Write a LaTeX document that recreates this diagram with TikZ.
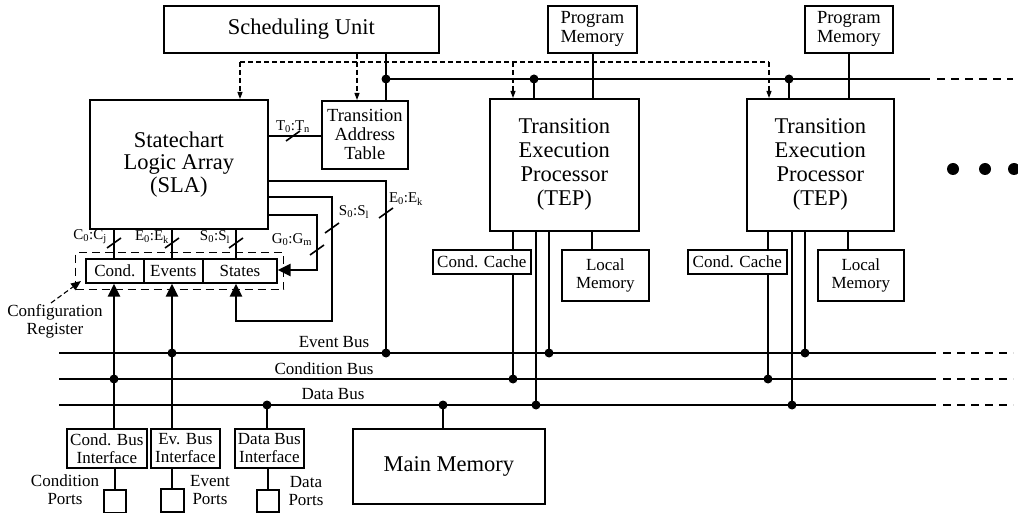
\documentclass[tikz,border=0pt]{standalone}
\usepackage{fontspec}
\setmainfont{Liberation Serif}
\usetikzlibrary{arrows.meta}
\begin{document}
\begin{tikzpicture}[x=1pt,y=-1pt,
  box/.style={draw, line width=1.7pt, inner sep=0pt, align=center, anchor=north west, fill=white},
  fbig/.style={font=\fontsize{22.5}{24}\selectfont},
  fsla/.style={font=\fontsize{22.5}{22.5}\selectfont},
  fmid/.style={font=\fontsize{18.5}{19}\selectfont},
  fsm/.style={font=\fontsize{17}{18}\selectfont},
  ftiny/.style={font=\fontsize{15}{15}\selectfont},
  lbl/.style={inner sep=0pt, align=center},
  thk/.style={line width=2.9pt},
  med/.style={line width=2.2pt},
  busline/.style={line width=2.6pt},
  busdash/.style={line width=2.6pt, dash pattern=on 8pt off 6pt},
  topdash/.style={line width=2.2pt, dash pattern=on 8pt off 6pt},
  ctl/.style={line width=1.1pt, dash pattern=on 5pt off 3pt},
  ctlarr/.style={ctl, -{Triangle[length=7pt,width=5pt]}},
  bigarr/.style={-{Triangle[length=13pt,width=12pt]}},
  slsh/.style={line width=1.6pt},
  jdot/.style={fill=black}
]
\useasboundingbox (0,0) rectangle (1018,513);

% ---------- x / y reference coordinates ----------
\coordinate (x113) at (114,0);
\coordinate (x172) at (172,0);
\coordinate (x236) at (236,0);
\coordinate (x267) at (267,0);
\coordinate (x357) at (357,0);
\coordinate (x443) at (443,0);
\coordinate (x513) at (513,0);
\coordinate (x536) at (536,0);
\coordinate (x549) at (549,0);
\coordinate (x592) at (592,0);
\coordinate (x593) at (593,0);
\coordinate (x768) at (768,0);
\coordinate (x792) at (792,0);
\coordinate (x805) at (805,0);
\coordinate (x848) at (848,0);
\coordinate (x849) at (849,0);
\coordinate (yT) at (0,136);

% ---------- buses ----------
\coordinate (evL) at (59,353);  \coordinate (evR) at (936,353);
\coordinate (evD) at (943,353); \coordinate (evE) at (1013,353);
\coordinate (cdL) at (59,379);  \coordinate (cdR) at (936,379);
\coordinate (cdD) at (943,379); \coordinate (cdE) at (1013,379);
\coordinate (dtL) at (59,405);  \coordinate (dtR) at (936,405);
\coordinate (dtD) at (943,405); \coordinate (dtE) at (1013,405);
\draw[busline] (evL) -- (evR); \draw[busdash] (evD) -- (evE);
\draw[busline] (cdL) -- (cdR); \draw[busdash] (cdD) -- (cdE);
\draw[busline] (dtL) -- (dtR); \draw[busdash] (dtD) -- (dtE);
\node[lbl, fsm] (lev) at (334,342) {Event Bus};
\node[lbl, fsm] (lcd) at (324,369) {Condition Bus};
\node[lbl, fsm] (ldt) at (333,394) {Data Bus};

% ---------- configuration register frame ----------
\node[draw, line width=1.1pt, dash pattern=on 8pt off 5pt, inner sep=0pt,
      minimum width=208, minimum height=37, anchor=north west] (reg) at (75,252) {};

% ---------- boxes ----------
\node[box, fbig, minimum width=275, minimum height=47] (su) at (163,5) {Scheduling Unit};
\node[box, fmid, minimum width=89, minimum height=47] (pm1) at (547,5) {Program\\Memory};
\node[box, fmid, minimum width=88, minimum height=47] (pm2) at (804,5) {Program\\Memory};
\node[box, fmid, minimum width=86, minimum height=68] (tat) at (321,100) {Transition\\Address\\Table};
\node[box, fsla, minimum width=178, minimum height=129] (sla) at (89,99) {Statechart\\Logic Array\\(SLA)};
\node[box, fbig, minimum width=149, minimum height=132] (tep1) at (489,98) {Transition\\Execution\\Processor\\(TEP)};
\node[box, fbig, minimum width=147, minimum height=132] (tep2) at (746,98) {Transition\\Execution\\Processor\\(TEP)};
\node[box, fsm, minimum width=98, minimum height=24] (cc1) at (432,249) {Cond. Cache};
\node[box, fsm, minimum width=87, minimum height=51] (lm1) at (561,249) {Local\\Memory};
\node[box, fsm, minimum width=99, minimum height=24] (cc2) at (687,249) {Cond. Cache};
\node[box, fsm, minimum width=86, minimum height=51] (lm2) at (817,249) {Local\\Memory};
\node[box, fsm, minimum width=58, minimum height=24] (rc) at (85,258) {Cond.};
\node[box, fsm, minimum width=59, minimum height=24] (re) at (143,258) {Events};
\node[box, fsm, minimum width=74, minimum height=24] (rs) at (202,258) {States};
\node[box, fsm, minimum width=80, minimum height=39] (cbi) at (66,428) {Cond. Bus\\Interface};
\node[box, fsm, minimum width=69, minimum height=39] (ebi) at (150,428) {Ev. Bus\\Interface};
\node[box, fsm, minimum width=69, minimum height=39] (dbi) at (234,428) {Data Bus\\Interface};
\node[box, minimum width=22, minimum height=23] (cp) at (103,489) {};
\node[box, minimum width=23, minimum height=23] (ep) at (160,488) {};
\node[box, minimum width=22, minimum height=22] (dp) at (256,489) {};
\node[box, fbig, minimum width=192, minimum height=75] (mm) at (352,428) {Main Memory};

% ---------- texts ----------
\node[lbl, fsm] (cfg) at (55,321) {Configuration\\Register};
\node[lbl, fsm] (lcp) at (65,490) {Condition\\Ports};
\node[lbl, fsm] (lep) at (210,490) {Event\\Ports};
\node[lbl, fsm] (ldp) at (306,491) {Data\\Ports};
\node[lbl, ftiny] (lT) at (293,127) {T\textsubscript{0}:T\textsubscript{n}};
\node[lbl, ftiny] (lC) at (90,237) {C\textsubscript{0}:C\textsubscript{j}};
\node[lbl, ftiny] (lE) at (152,237) {E\textsubscript{0}:E\textsubscript{k}};
\node[lbl, ftiny] (lS) at (215,237) {S\textsubscript{0}:S\textsubscript{l}};
\node[lbl, ftiny] (lG) at (292,240) {G\textsubscript{0}:G\textsubscript{m}};
\node[lbl, ftiny] (lS2) at (354,212) {S\textsubscript{0}:S\textsubscript{l}};
\node[lbl, ftiny] (lE2) at (406,199) {E\textsubscript{0}:E\textsubscript{k}};

% ---------- control (dashed) lines ----------
\coordinate (dcL) at (240,62);
\coordinate (dcM) at (513,62);
\coordinate (dcR) at (769,62);
\draw[ctl] (dcL) -- (dcR);
\draw[ctlarr] (dcL) -- (sla.north -| dcL);
\draw[ctlarr] (su.south -| x357) -- (tat.north -| x357);
\draw[ctlarr] (dcM) -- (tep1.north -| dcM);
\draw[ctlarr] (dcR) -- (tep2.north -| dcR);

% ---------- top transition bus ----------
\coordinate (tbL) at (386,79);
\coordinate (tb1) at (534,79);
\coordinate (tb2) at (789,79);
\coordinate (tbR) at (930,79);
\coordinate (tbD) at (937,79);
\coordinate (tbE) at (1013,79);
\draw[med] (su.south -| tbL) -- (tat.north -| tbL);
\draw[med] (tbL) -- (tbR);
\draw[topdash] (tbD) -- (tbE);
\draw[med] (tb1) -- (tep1.north -| tb1);
\draw[med] (tb2) -- (tep2.north -| tb2);
\draw[med] (pm1.south -| x593) -- (tep1.north -| x593);
\draw[med] (pm2.south -| x849) -- (tep2.north -| x849);
\fill[jdot] (tbL) circle (4.5);
\fill[jdot] (tb1) circle (4.5);
\fill[jdot] (tb2) circle (4.5);

% ---------- SLA connections ----------
\draw[thk] (sla.east |- yT) -- (tat.west |- yT);
\draw[slsh] (286,141) -- (300,131);

\draw[thk] (sla.south -| x113) -- (rc.north -| x113);
\draw[thk] (sla.south -| x172) -- (re.north -| x172);
\draw[thk] (sla.south -| x236) -- (rs.north -| x236);
\draw[slsh] (107,248) -- (121,238);
\draw[slsh] (165,248) -- (179,238);
\draw[slsh] (229,248) -- (243,238);

% E loop to event bus
\coordinate (eA) at (386,181);
\draw[thk] (sla.east |- eA) -- (eA) -- (eA |- evL);
\fill[jdot] (eA |- evL) circle (4.5);
\draw[slsh] (379,218) -- (393,208);

% S loop back to States
\coordinate (sA) at (332,197);
\coordinate (sB) at (332,321);
\coordinate (sC) at (236,321);
\draw[thk, bigarr] (sla.east |- sA) -- (sA) -- (sB) -- (sC) -- (rs.south -| sC);
\draw[slsh] (325,233) -- (339,223);

% G loop to States
\coordinate (gA) at (317,215);
\coordinate (gB) at (317,270);
\draw[thk, bigarr] (sla.east |- gA) -- (gA) -- (gB) -- (rs.east |- gB);
\draw[slsh] (310,255) -- (324,245);

% configuration register pointer
\coordinate (cfgtip) at (81,281);
\draw[ctl, -{Triangle[length=10pt,width=8pt]}] (cfg.north) ++(-4,-1) -- (cfgtip);

% ---------- bus interfaces ----------
\draw[thk, bigarr] (cbi.north -| x113) -- (rc.south -| x113);
\fill[jdot] (x113 |- cdL) circle (4.5);
\draw[thk, bigarr] (ebi.north -| x172) -- (re.south -| x172);
\fill[jdot] (x172 |- evL) circle (4.5);
\draw[med] (dbi.north -| x267) -- (x267 |- dtL);
\fill[jdot] (x267 |- dtL) circle (4.5);
\draw[med] (cbi.south -| cp.north) -- (cp.north);
\draw[med] (ebi.south -| ep.north) -- (ep.north);
\draw[med] (dbi.south -| dp.north) -- (dp.north);

% ---------- main memory ----------
\draw[med] (mm.north -| x443) -- (x443 |- dtL);
\fill[jdot] (x443 |- dtL) circle (4.5);

% ---------- TEP 1 ----------
\draw[med] (tep1.south -| x513) -- (cc1.north -| x513);
\draw[med] (cc1.south -| x513) -- (x513 |- cdL);
\fill[jdot] (x513 |- cdL) circle (4.5);
\draw[med] (tep1.south -| x536) -- (x536 |- dtL);
\fill[jdot] (x536 |- dtL) circle (4.5);
\draw[med] (tep1.south -| x549) -- (x549 |- evL);
\fill[jdot] (x549 |- evL) circle (4.5);
\draw[med] (tep1.south -| x592) -- (lm1.north -| x592);

% ---------- TEP 2 ----------
\draw[med] (tep2.south -| x768) -- (cc2.north -| x768);
\draw[med] (cc2.south -| x768) -- (x768 |- cdL);
\fill[jdot] (x768 |- cdL) circle (4.5);
\draw[med] (tep2.south -| x792) -- (x792 |- dtL);
\fill[jdot] (x792 |- dtL) circle (4.5);
\draw[med] (tep2.south -| x805) -- (x805 |- evL);
\fill[jdot] (x805 |- evL) circle (4.5);
\draw[med] (tep2.south -| x848) -- (lm2.north -| x848);

% ---------- ellipsis ----------
\fill (953,169) circle (6);
\fill (985,169) circle (6);
\fill (1014,169) circle (6);
\end{tikzpicture}
\end{document}
